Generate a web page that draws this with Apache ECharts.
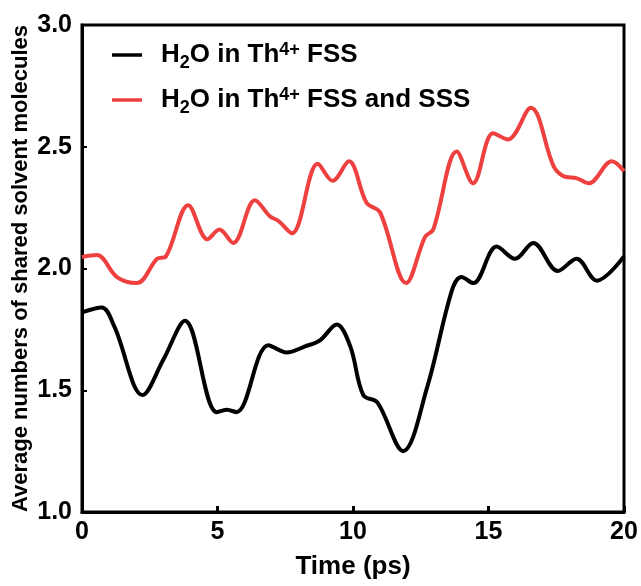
<!DOCTYPE html>
<html>
<head>
<meta charset="utf-8">
<script src="https://cdn.jsdelivr.net/npm/echarts@6/dist/echarts.min.js"></script>
<style>html,body{margin:0;padding:0;background:#fff;}#c{width:641px;height:586px;}</style>
</head>
<body>
<div id="c"></div>
<script>
// Time (ps) and values
var fssTime = [0, 0.73, 1.2, 2.24, 3.0, 3.8, 4.97, 5.34, 5.7, 6.88, 7.55, 8.23, 8.78, 9.4, 9.9, 10.38, 10.9, 11.85, 12.73, 13.65, 14.0, 14.44, 15.3, 15.98, 16.65, 17.56, 18.25, 19.0, 20];
var fssValue = [1.82, 1.84, 1.76, 1.48, 1.625, 1.785, 1.41, 1.42, 1.41, 1.685, 1.655, 1.68, 1.705, 1.77, 1.68, 1.48, 1.45, 1.25, 1.51, 1.91, 1.965, 1.94, 2.09, 2.04, 2.105, 1.99, 2.04, 1.95, 2.05];
var sssTime = [0, 0.55, 1.29, 2.03, 2.77, 3.1, 3.92, 4.63, 5.07, 5.58, 6.38, 6.93, 7.25, 7.75, 8.7, 9.25, 9.85, 10.5, 11.0, 11.96, 12.66, 12.96, 13.83, 14.43, 15.17, 15.72, 16.56, 17.4, 17.75, 18.26, 18.7, 19.55, 20];
var sssValue = [2.047, 2.055, 1.965, 1.94, 2.04, 2.05, 2.26, 2.12, 2.16, 2.105, 2.28, 2.215, 2.195, 2.145, 2.43, 2.36, 2.44, 2.27, 2.23, 1.94, 2.13, 2.16, 2.48, 2.35, 2.555, 2.53, 2.66, 2.42, 2.38, 2.37, 2.35, 2.44, 2.40];
var seriesNames = ['H2O in Th4+ FSS', 'H2O in Th4+ FSS and SSS'];
var legendLabels = ['H{s|2}O in Th{p|4+} FSS', 'H{s|2}O in Th{p|4+} FSS and SSS'];

function pairs(t, v) { return t.map(function (x, i) { return [x, v[i]]; }); }

var font = '"Liberation Sans", Arial, sans-serif';
var chart = echarts.init(document.getElementById('c'), null, {renderer: 'canvas'});
chart.setOption({
  animation: false,
  backgroundColor: '#fff',
  grid: {left: 82, right: 17, top: 25, bottom: 74, show: true, borderColor: '#000', borderWidth: 3,
    containLabel: false, outerBoundsMode: 'none'},
  legend: {
    left: 107, top: 36, orient: 'vertical', itemGap: 14, itemWidth: 30, itemHeight: 30,
    icon: 'path://M0,13.5 L30,13.5 L30,17 L0,17 Z',
    data: seriesNames,
    formatter: function (n) { return legendLabels[seriesNames.indexOf(n)]; },
    textStyle: {
      fontFamily: font, fontWeight: 'bold', fontSize: 26, color: '#000', padding: [0, 0, 0, 14],
      rich: {
        s: {fontFamily: font, fontWeight: 'bold', fontSize: 18, color: '#000', padding: [16, 0, 0, 0]},
        p: {fontFamily: font, fontWeight: 'bold', fontSize: 18, color: '#000', padding: [0, 0, 10, 0]}
      }
    }
  },
  xAxis: {
    type: 'value', min: 0, max: 20, interval: 5,
    name: 'Time (ps)', nameLocation: 'middle', nameGap: 42, nameMoveOverlap: false,
    nameTextStyle: {fontFamily: font, fontWeight: 'bold', fontSize: 26, color: '#000'},
    axisLine: {show: true, lineStyle: {color: '#000', width: 3}},
    axisTick: {show: true, inside: true, length: 6, lineStyle: {color: '#000', width: 3}},
    axisLabel: {fontFamily: font, fontWeight: 'bold', fontSize: 25, color: '#000', margin: 8},
    splitLine: {show: false}
  },
  yAxis: {
    type: 'value', min: 1.0, max: 3.0, interval: 0.5,
    name: 'Average numbers of shared solvent molecules', nameLocation: 'middle', nameGap: 50, nameMoveOverlap: false,
    nameTextStyle: {fontFamily: font, fontWeight: 'bold', fontSize: 22, color: '#000'},
    axisLine: {show: true, lineStyle: {color: '#000', width: 3}},
    axisTick: {show: true, inside: true, length: 5, lineStyle: {color: '#000', width: 2}},
    axisLabel: {fontFamily: font, fontWeight: 'bold', fontSize: 25, color: '#000', margin: 10,
      formatter: function (v) { return v.toFixed(1); }},
    splitLine: {show: false}
  },
  series: [
    {name: seriesNames[0], type: 'line', data: pairs(fssTime, fssValue), smooth: 0.35, showSymbol: false,
      lineStyle: {color: '#000', width: 4}, itemStyle: {color: '#000'}},
    {name: seriesNames[1], type: 'line', data: pairs(sssTime, sssValue), smooth: 0.35, showSymbol: false,
      lineStyle: {color: '#ef4040', width: 4}, itemStyle: {color: '#ef4040'}}
  ]
});
</script>
</body>
</html>
